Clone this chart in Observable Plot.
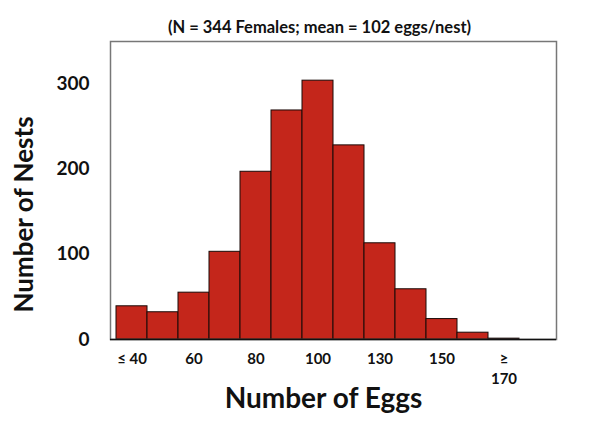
<!DOCTYPE html>
<html><head><meta charset="utf-8">
<script src="https://cdn.jsdelivr.net/npm/d3@7"></script>
<script src="https://cdn.jsdelivr.net/npm/@observablehq/plot@0.6"></script>
<style>body{margin:0;background:#fff} svg{display:block}</style>
</head><body><div id="chart"></div>
<script>
const bins = ["≤ 40","50","60","70","80","90","100","115","130","140","150","160","≥ 170","180+"];
const counts = [39,32,55,103,197,269,304,228,113,59,24,8,1,0];
const shownTicks = ["≤ 40","60","80","100","130","150","≥ 170"];
const tickText = {"≤ 40":"≤ 40","60":"60","80":"80","100":"100","130":"130","150":"150","≥ 170":"≥\n170"};
const yTicks = [0,100,200,300];
const title = "(N = 344 Females; mean = 102 eggs/nest)";
const xLabel = "Number of Eggs";
const yLabel = "Number of Nests";

const data = bins.map((b, i) => ({bin: b, count: counts[i]}));
const font = "Lato, 'Open Sans', sans-serif";

const chart = Plot.plot({
  width: 600, height: 422,
  marginLeft: 110, marginRight: 44, marginTop: 41, marginBottom: 83,
  style: {fontFamily: font, color: "#111", background: "#fff"},
  x: {type: "band", domain: bins, padding: 0},
  y: {domain: [0, 350]},
  marks: [
    Plot.barY(data, {x: "bin", y: "count", fill: "#c4261b", stroke: "#1a0a08", strokeWidth: 1}),
    Plot.frame({stroke: "#777", strokeWidth: 1.5}),
    Plot.ruleY([0], {stroke: "#111", strokeWidth: 1.5}),
    Plot.axisX({ticks: shownTicks, tickFormat: d => tickText[d], tickSize: 0, tickPadding: 11, fontSize: 15, fontWeight: "bold", lineHeight: 1.3, label: null}),
    Plot.axisY({ticks: yTicks, tickSize: 0, tickPadding: 21, fontSize: 19, fontWeight: "bold", label: null}),
    Plot.text([title], {frameAnchor: "top", dx: -14, dy: -20, fontSize: 16.5, fontWeight: "bold", textAnchor: "middle"}),
    Plot.text([xLabel], {frameAnchor: "bottom", dx: -10, dy: 68, fontSize: 28, fontWeight: "bold", textAnchor: "middle"}),
    Plot.text([yLabel], {frameAnchor: "left", dx: -86, dy: 24, rotate: -90, fontSize: 26, fontWeight: "bold", textAnchor: "middle"})
  ]
});
document.getElementById("chart").append(chart);
</script>
</body></html>
